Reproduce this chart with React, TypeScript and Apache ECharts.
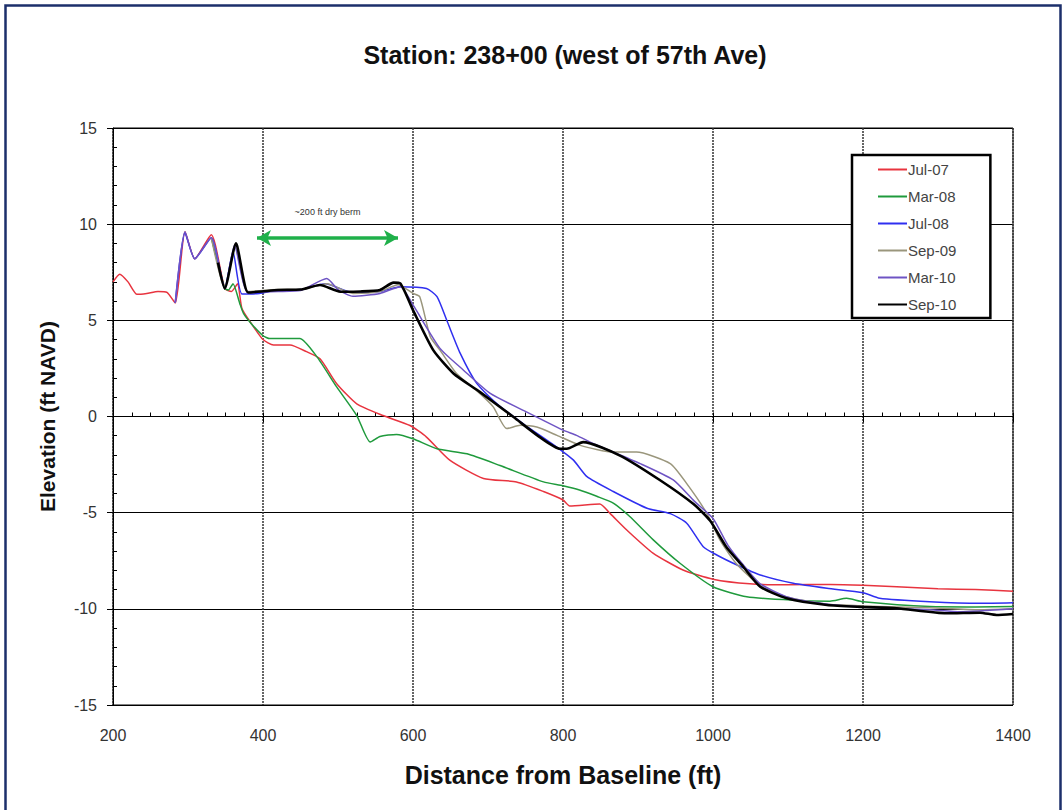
import React, { useEffect, useRef } from "react";
import * as echarts from "echarts";

const titleText = "Station: 238+00 (west of 57th Ave)";
const xName = "Distance from Baseline (ft)";
const yName = "Elevation (ft NAVD)";
const seriesNames = ["Jul-07", "Mar-08", "Jul-08", "Sep-09", "Mar-10", "Sep-10"];
const seriesColors = ["#e8343f", "#1f9a3c", "#2f2ff0", "#9a967c", "#6e54c4", "#000000"];
const seriesWidths = [1.5, 1.5, 1.5, 1.5, 1.5, 2.6];

const jul07X = [200, 209, 220, 232, 245, 260, 272, 283, 296, 309, 331, 349, 358, 366, 372, 385, 400, 414, 436, 458, 476, 498, 525, 560, 596, 618, 649, 694, 738, 774, 800, 809, 849, 863, 885, 920, 960, 1000, 1049, 1100, 1156, 1200, 1245, 1300, 1350, 1400];
const jul07Y = [7.0, 7.4, 7.0, 6.35, 6.4, 6.5, 6.45, 5.9, 9.6, 8.2, 9.45, 6.66, 6.5, 6.9, 5.6, 4.8, 4.0, 3.72, 3.72, 3.37, 3.0, 1.72, 0.66, 0.05, -0.47, -1.07, -2.27, -3.22, -3.4, -3.9, -4.34, -4.65, -4.55, -5.05, -5.9, -7.1, -7.98, -8.46, -8.7, -8.75, -8.73, -8.77, -8.85, -8.95, -9.0, -9.08];

const mar08X = [331, 349, 354, 360, 369, 374, 385, 400, 409, 449, 472, 498, 525, 543, 556, 578, 600, 632, 672, 716, 774, 800, 822, 845, 867, 889, 920, 956, 1000, 1045, 1107, 1156, 1178, 1200, 1289, 1350, 1400];
const mar08Y = [9.3, 6.66, 6.58, 6.9, 5.88, 5.36, 4.8, 4.2, 4.05, 4.06, 3.1, 1.55, 0.05, -1.33, -1.04, -0.93, -1.16, -1.68, -1.94, -2.55, -3.4, -3.6, -3.82, -4.15, -4.5, -5.2, -6.4, -7.63, -8.85, -9.37, -9.55, -9.6, -9.45, -9.63, -9.88, -9.9, -9.88];

const jul08X = [283, 296, 309, 331, 349, 360, 372, 395, 420, 450, 483, 520, 556, 583, 618, 632, 645, 663, 685, 712, 747, 792, 814, 832, 867, 912, 943, 965, 987, 1005, 1032, 1063, 1107, 1152, 1200, 1222, 1289, 1356, 1400];
const jul08Y = [5.9, 9.55, 8.2, 9.3, 6.66, 8.57, 6.37, 6.4, 6.58, 6.6, 6.9, 6.45, 6.5, 6.75, 6.66, 6.23, 5.0, 3.28, 1.72, 0.66, -0.38, -1.6, -2.27, -3.13, -3.9, -4.77, -5.05, -5.55, -6.77, -7.2, -7.72, -8.24, -8.67, -8.93, -9.16, -9.45, -9.63, -9.71, -9.68];

const sep09X = [331, 349, 363, 380, 420, 450, 485, 520, 556, 580, 600, 609, 623, 636, 658, 689, 707, 725, 743, 765, 792, 823, 867, 898, 943, 965, 992, 1009, 1030, 1063, 1100, 1150, 1200, 1289, 1356, 1400];
const sep09Y = [9.3, 6.66, 8.8, 6.5, 6.6, 6.6, 6.9, 6.4, 6.5, 6.85, 6.4, 6.23, 4.15, 3.45, 2.24, 1.2, 0.5, -0.63, -0.46, -0.55, -0.98, -1.5, -1.85, -1.85, -2.45, -3.49, -5.05, -6.4, -7.6, -8.8, -9.4, -9.75, -9.85, -9.95, -10.05, -10.0];

const mar10X = [283, 296, 309, 331, 349, 362, 380, 420, 450, 485, 500, 520, 556, 583, 600, 636, 667, 703, 747, 800, 818, 840, 903, 947, 975, 1000, 1020, 1040, 1063, 1100, 1150, 1200, 1289, 1330, 1400];
const mar10Y = [5.9, 9.6, 8.2, 9.3, 6.66, 8.9, 6.45, 6.5, 6.55, 7.18, 6.6, 6.25, 6.4, 6.75, 5.8, 3.54, 2.42, 1.2, 0.32, -0.71, -0.98, -1.4, -2.45, -3.3, -4.4, -5.3, -6.7, -7.7, -8.7, -9.4, -9.75, -9.9, -10.05, -10.15, -10.0];

const sep10X = [340, 349, 364, 380, 398, 420, 450, 476, 503, 530, 556, 574, 583, 600, 627, 654, 689, 734, 769, 796, 805, 827, 876, 929, 974, 996, 1018, 1040, 1063, 1098, 1152, 1196, 1245, 1311, 1356, 1378, 1400];
const sep10Y = [8.0, 6.66, 9.0, 6.45, 6.5, 6.58, 6.6, 6.84, 6.49, 6.5, 6.58, 6.96, 6.92, 5.53, 3.45, 2.24, 1.28, -0.03, -1.07, -1.68, -1.68, -1.33, -2.03, -3.3, -4.55, -5.41, -6.8, -7.8, -8.85, -9.45, -9.8, -9.9, -9.97, -10.23, -10.2, -10.32, -10.27];

const allX = [jul07X, mar08X, jul08X, sep09X, mar10X, sep10X];
const allY = [jul07Y, mar08Y, jul08Y, sep09Y, mar10Y, sep10Y];

const bermStart = 392;
const bermEnd = 580;
const bermLevel = 9.28;
const bermLabel = "~200 ft dry berm";

const FONT = "'Liberation Sans', Arial, sans-serif";

export default function App() {
  const ref = useRef<HTMLDivElement>(null);
  useEffect(() => {
    if (!ref.current) return;
    const chart = echarts.init(ref.current, null, { renderer: "svg" });
    const series: any[] = seriesNames.map((name, i) => ({
      name,
      type: "line",
      xAxisIndex: 0,
      yAxisIndex: 0,
      symbol: "none",
      showSymbol: false,
      smooth: 0.2,
      data: allX[i].map((x, j) => [x, allY[i][j]]),
      lineStyle: { color: seriesColors[i], width: seriesWidths[i] },
      itemStyle: { color: seriesColors[i] },
      z: 3 + i,
    }));
    series.push({
      name: "berm",
      type: "line",
      data: [],
      xAxisIndex: 0,
      yAxisIndex: 0,
      markLine: {
        silent: true,
        symbol: ["arrow", "arrow"],
        symbolSize: [12, 14],
        lineStyle: { color: "#1fb04a", width: 3.5, type: "solid" },
        label: {
          show: true,
          position: "middle",
          formatter: bermLabel,
          fontSize: 9,
          color: "#333",
          fontFamily: FONT,
          distance: 22,
        },
        data: [[{ coord: [bermStart, bermLevel] }, { coord: [bermEnd, bermLevel] }]],
      },
    });
    chart.setOption({
      animation: false,
      backgroundColor: "#ffffff",
      textStyle: { fontFamily: FONT },
      grid: { left: 113, top: 128, width: 900, height: 577, show: true, borderColor: "#000", borderWidth: 1, containLabel: false },
      legend: {
        data: seriesNames,
        orient: "vertical",
        left: 852,
        top: 155,
        padding: [6, 34, 5, 26],
        itemGap: 10,
        icon: "rect",
        itemWidth: 29,
        itemHeight: 2,
        backgroundColor: "#fff",
        borderColor: "#000",
        borderWidth: 2.5,
        textStyle: { fontSize: 15, color: "#444", fontFamily: FONT, padding: [0, 0, 0, -4], lineHeight: 17 },
      },
      xAxis: [
        {
          type: "value",
          min: 200,
          max: 1400,
          interval: 200,
          name: xName,
          nameLocation: "middle",
          nameGap: 57,
          nameTextStyle: { fontSize: 25, fontWeight: "bold", color: "#111", fontFamily: FONT },
          axisLine: { show: true, lineStyle: { color: "#000", width: 1 } },
          axisTick: { show: true, inside: false, length: 6, lineStyle: { color: "#000" } },
          axisLabel: { fontSize: 16, color: "#333", margin: 22, fontFamily: FONT, formatter: (v: number) => String(v) },
          splitLine: { show: true, lineStyle: { color: "#333", width: 1.5, type: [2, 1] } },
        },
        {
          type: "value",
          min: 200,
          max: 1400,
          interval: 25,
          position: "bottom",
          axisLine: { show: false },
          axisTick: { show: true, inside: true, length: 4, lineStyle: { color: "#000" } },
          axisLabel: { show: false },
          splitLine: { show: false },
        },
      ],
      yAxis: [
        {
          type: "value",
          min: -15,
          max: 15,
          interval: 5,
          name: yName,
          nameLocation: "middle",
          nameGap: 55,
          nameTextStyle: { fontSize: 21, fontWeight: "bold", color: "#111", fontFamily: FONT },
          axisLine: { show: true, lineStyle: { color: "#000", width: 1 } },
          axisTick: { show: true, inside: false, length: 6, lineStyle: { color: "#000" } },
          axisLabel: { fontSize: 16, color: "#333", margin: 16, fontFamily: FONT },
          splitLine: { show: true, lineStyle: { color: "#000", width: 1, type: "solid" } },
        },
        {
          type: "value",
          min: -15,
          max: 15,
          interval: 1,
          position: "left",
          axisLine: { show: false },
          axisTick: { show: true, inside: true, length: 4, lineStyle: { color: "#000" } },
          axisLabel: { show: false },
          splitLine: { show: false },
        },
      ],
      graphic: [
        {
          type: "rect",
          left: 3,
          top: 3,
          shape: { width: 1055, height: 820 },
          style: { fill: "none", stroke: "#1c2f6b", lineWidth: 2.5 },
          silent: true,
        },
        {
          type: "text",
          x: 565,
          y: 55,
          style: {
            text: titleText,
            fontSize: 25,
            fontWeight: "bold",
            fill: "#111",
            fontFamily: FONT,
            textAlign: "center",
            textVerticalAlign: "middle",
          },
        },
      ],
      series,
    });
    return () => chart.dispose();
  }, []);
  return <div ref={ref} style={{ position: "fixed", left: 0, top: 0, width: 1063, height: 810 }} />;
}
